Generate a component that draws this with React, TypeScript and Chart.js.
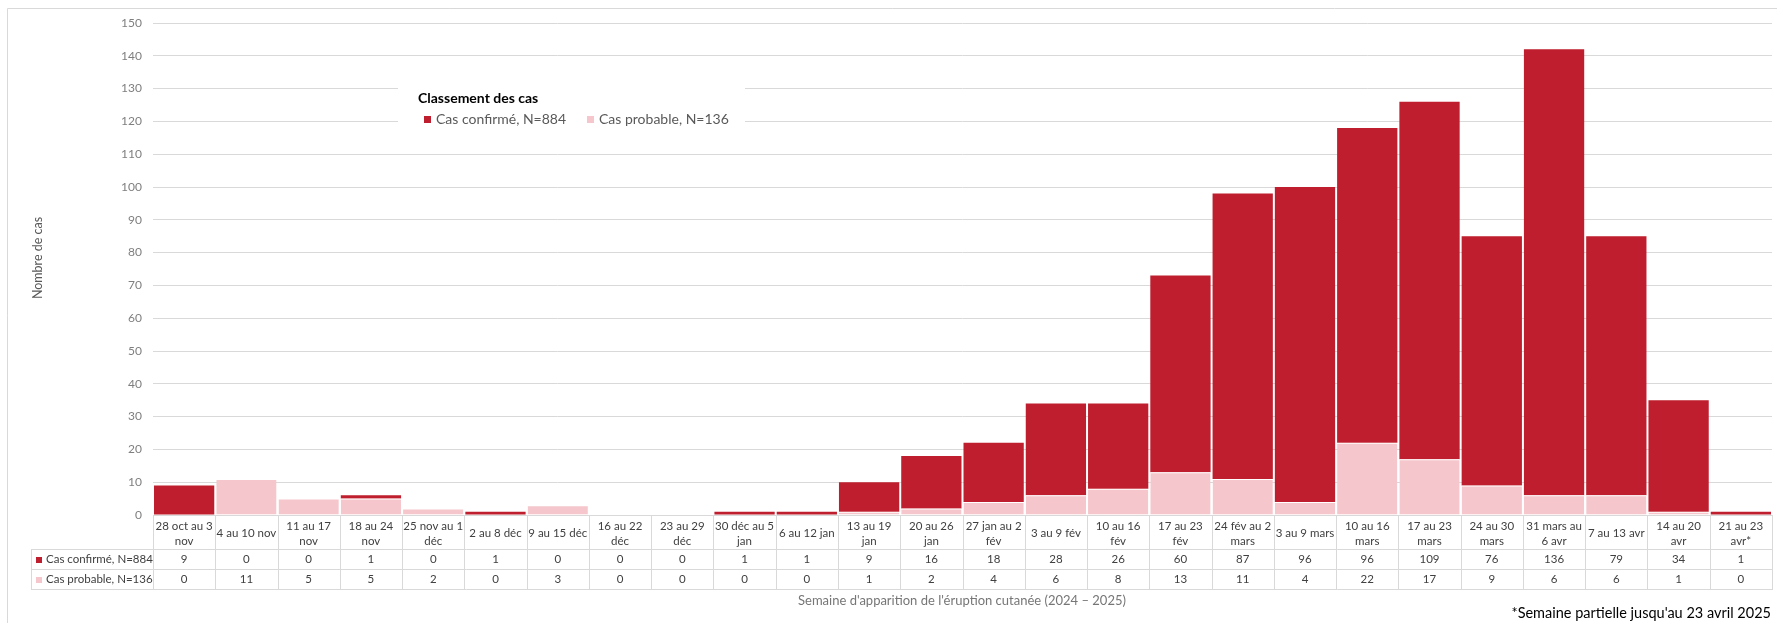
import React, { useEffect, useRef } from "react";
import { Chart, registerables } from "chart.js";

Chart.register(...registerables);

// ---------- Data ----------
const categories: string[][] = [
  ["28 oct au 3", "nov"],
  ["4 au 10 nov"],
  ["11 au 17", "nov"],
  ["18 au 24", "nov"],
  ["25 nov au 1", "déc"],
  ["2 au 8 déc"],
  ["9 au 15 déc"],
  ["16 au 22", "déc"],
  ["23 au 29", "déc"],
  ["30 déc au 5", "jan"],
  ["6 au 12 jan"],
  ["13 au 19", "jan"],
  ["20 au 26", "jan"],
  ["27 jan au 2", "fév"],
  ["3 au 9 fév"],
  ["10 au 16", "fév"],
  ["17 au 23", "fév"],
  ["24 fév au 2", "mars"],
  ["3 au 9 mars"],
  ["10 au 16", "mars"],
  ["17 au 23", "mars"],
  ["24 au 30", "mars"],
  ["31 mars au", "6 avr"],
  ["7 au 13 avr"],
  ["14 au 20", "avr"],
  ["21 au 23", "avr*"],
];

const confirmed = [9, 0, 0, 1, 0, 1, 0, 0, 0, 1, 1, 9, 16, 18, 28, 26, 60, 87, 96, 96, 109, 76, 136, 79, 34, 1];
const probable = [0, 11, 5, 5, 2, 0, 3, 0, 0, 0, 0, 1, 2, 4, 6, 8, 13, 11, 4, 22, 17, 9, 6, 6, 1, 0];

const seriesNames = ["Cas confirmé, N=884", "Cas probable, N=136"];
const legendTitle = "Classement des cas";
const yTitle = "Nombre de cas";
const xTitle = "Semaine d'apparition de l'éruption cutanée (2024 – 2025)";
const footnote = "*Semaine partielle jusqu'au 23 avril 2025";
const yMin = 0;
const yMax = 150;
const yStep = 10;

// ---------- Style ----------
const W = 1777;
const H = 623;
const RED = "#BE1E2D";
const PINK = "#F5C6CB";
const GRID = "#d9d9d9";
const FONT = "Lato, 'Open Sans', sans-serif";

const overlayPlugin = {
  id: "overlay",
  beforeDraw(chart: any) {
    const ctx = chart.ctx as CanvasRenderingContext2D;
    ctx.save();
    ctx.fillStyle = "#ffffff";
    ctx.fillRect(0, 0, W, H);
    ctx.strokeStyle = GRID;
    ctx.lineWidth = 1;
    ctx.beginPath();
    ctx.moveTo(7.5, H);
    ctx.lineTo(7.5, 8.5);
    ctx.lineTo(W, 8.5);
    ctx.stroke();
    ctx.restore();
  },
  afterDraw(chart: any) {
    const ctx = chart.ctx as CanvasRenderingContext2D;
    const xs = chart.scales.x;
    const area = chart.chartArea;
    const n = categories.length;
    const colW = (area.right - area.left) / n;
    const base = area.bottom;

    ctx.save();

    // ---- Legend box (inside plot) ----
    ctx.fillStyle = "#ffffff";
    ctx.fillRect(398, 62, 347, 78);
    ctx.textBaseline = "middle";
    ctx.textAlign = "left";
    ctx.fillStyle = "#000000";
    ctx.font = `bold 14px ${FONT}`;
    ctx.fillText(legendTitle, 418, 98.5);
    ctx.font = `14px ${FONT}`;
    const legendItems = [
      { x: 424, color: RED, text: seriesNames[0] },
      { x: 587, color: PINK, text: seriesNames[1] },
    ];
    legendItems.forEach((it) => {
      ctx.fillStyle = it.color;
      ctx.fillRect(it.x, 116, 7, 7);
      ctx.fillStyle = "#595959";
      ctx.fillText(it.text, it.x + 12, 119.5);
    });

    // ---- Data table ----
    const rowTop = base;
    const hdrBottom = base + 34;
    const r1Bottom = hdrBottom + 20;
    const r2Bottom = r1Bottom + 20;
    const keyLeft = 31;

    ctx.strokeStyle = GRID;
    ctx.lineWidth = 1;
    ctx.beginPath();
    for (let i = 0; i <= n; i++) {
      const x = Math.round(area.left + i * colW) + 0.5;
      ctx.moveTo(x, rowTop);
      ctx.lineTo(x, r2Bottom);
    }
    ctx.moveTo(keyLeft + 0.5, hdrBottom);
    ctx.lineTo(keyLeft + 0.5, r2Bottom);
    [hdrBottom, r1Bottom, r2Bottom].forEach((y) => {
      ctx.moveTo(keyLeft, y + 0.5);
      ctx.lineTo(Math.round(area.right) + 1, y + 0.5);
    });
    ctx.moveTo(area.left, base + 0.5);
    ctx.lineTo(area.right, base + 0.5);
    ctx.stroke();

    ctx.fillStyle = "#404040";
    ctx.font = `11.5px ${FONT}`;
    ctx.textAlign = "center";
    ctx.textBaseline = "middle";
    for (let i = 0; i < n; i++) {
      const cx = xs.getPixelForValue(i);
      const lines = categories[i];
      if (lines.length === 1) {
        ctx.fillText(lines[0], cx, base + 18);
      } else {
        ctx.fillText(lines[0], cx, base + 11);
        ctx.fillText(lines[1], cx, base + 26);
      }
      ctx.fillText(String(confirmed[i]), cx, hdrBottom + 10.5);
      ctx.fillText(String(probable[i]), cx, r1Bottom + 10.5);
    }
    ctx.textAlign = "left";
    ctx.fillStyle = RED;
    ctx.fillRect(36, hdrBottom + 8, 6, 6);
    ctx.fillStyle = PINK;
    ctx.fillRect(36, r1Bottom + 8, 6, 6);
    ctx.fillStyle = "#404040";
    ctx.fillText(seriesNames[0], 46, hdrBottom + 10.5);
    ctx.fillText(seriesNames[1], 46, r1Bottom + 10.5);

    // ---- Axis titles ----
    ctx.fillStyle = "#767676";
    ctx.font = `13px ${FONT}`;
    ctx.textAlign = "center";
    ctx.fillText(xTitle, 962, 601);

    ctx.save();
    ctx.translate(38, 258);
    ctx.rotate(-Math.PI / 2);
    ctx.fillStyle = "#595959";
    ctx.font = `12.5px ${FONT}`;
    ctx.fillText(yTitle, 0, 0);
    ctx.restore();

    // ---- Footnote ----
    ctx.fillStyle = "#000000";
    ctx.font = `14.5px ${FONT}`;
    ctx.textAlign = "right";
    ctx.fillText(footnote, 1771, 613);

    ctx.restore();
  },
};

export default function App() {
  const canvasRef = useRef<HTMLCanvasElement | null>(null);

  useEffect(() => {
    const canvas = canvasRef.current;
    if (!canvas) return;
    const chart = new Chart(canvas, {
      type: "bar",
      data: {
        labels: categories,
        datasets: [
          {
            label: seriesNames[1],
            data: probable,
            backgroundColor: PINK,
            borderColor: "#ffffff",
            borderWidth: { top: 1, left: 0, right: 0, bottom: 0 },
            borderSkipped: "start",
          },
          {
            label: seriesNames[0],
            data: confirmed,
            backgroundColor: RED,
            borderWidth: 0,
          },
        ],
      },
      options: {
        responsive: false,
        animation: false,
        devicePixelRatio: 1,
        layout: { padding: { top: 23, right: 5, bottom: 108, left: 0 } },
        plugins: {
          legend: { display: false },
          tooltip: { enabled: false },
        },
        datasets: {
          bar: { categoryPercentage: 0.968, barPercentage: 1 },
        },
        scales: {
          x: { stacked: true, display: false },
          y: {
            stacked: true,
            min: yMin,
            max: yMax,
            ticks: {
              stepSize: yStep,
              color: "#7f7f7f",
              font: { family: FONT, size: 12 },
              padding: 11,
            },
            grid: { color: GRID, drawTicks: false, lineWidth: 1 },
            border: { display: false },
            afterFit: (s: any) => {
              s.width = 153;
              s.paddingTop = 0;
              s.paddingBottom = 0;
            },
          },
        },
      },
      plugins: [overlayPlugin],
    } as any);
    return () => chart.destroy();
  }, []);

  return (
    <div style={{ position: "absolute", left: 0, top: 0, width: W, height: H }}>
      <canvas ref={canvasRef} width={W} height={H} style={{ display: "block" }} />
    </div>
  );
}
